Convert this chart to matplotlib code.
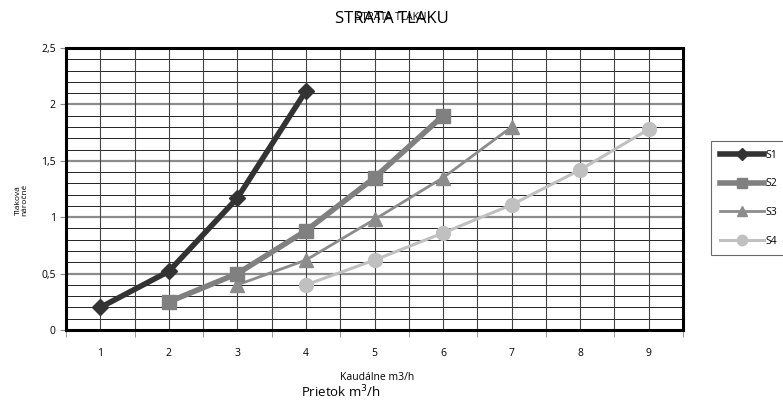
import numpy as np
import matplotlib.pyplot as plt
from matplotlib.ticker import FixedLocator

plt.rcParams['font.family'] = ['Open Sans', 'DejaVu Sans']

# data
s1_x = [1, 2, 3, 4]
s1_y = [0.20, 0.52, 1.17, 2.12]
s2_x = [2, 3, 4, 5, 6]
s2_y = [0.25, 0.50, 0.88, 1.35, 1.90]
s3_x = [3, 4, 5, 6, 7]
s3_y = [0.40, 0.62, 0.98, 1.35, 1.80]
s4_x = [4, 5, 6, 7, 8, 9]
s4_y = [0.40, 0.62, 0.86, 1.11, 1.42, 1.78]
x_ticks = [1, 2, 3, 4, 5, 6, 7, 8, 9]
y_ticks = [0, 0.5, 1, 1.5, 2, 2.5]
y_labels = ['0', '0,5', '1', '1,5', '2', '2,5']

fig = plt.figure(figsize=(7.83, 4.0), dpi=100)
ax = fig.add_axes([66/783, 70/400, 617/783, 282/400])

# grid: minor every 0.1 (dark thin), major every 0.5 (gray)
for v in np.arange(0.1, 2.5, 0.1):
    if abs(v * 2 - round(v * 2)) < 1e-6:
        ax.axhline(v, color='#8c8c8c', lw=1.6, zorder=1)
    else:
        ax.axhline(v, color='#222222', lw=0.7, zorder=1)
for v in np.arange(1.0, 9.6, 0.5):
    ax.axvline(v, color='#444444', lw=0.8, zorder=1)

ax.plot(s1_x, s1_y, color='#333333', lw=4, marker='D', ms=8, label='S1', zorder=5)
ax.plot(s2_x, s2_y, color='#808080', lw=4, marker='s', ms=10, label='S2', zorder=4)
ax.plot(s3_x, s3_y, color='#8c8c8c', lw=2, marker='^', ms=10, label='S3', zorder=3)
ax.plot(s4_x, s4_y, color='#c0c0c0', lw=2.2, marker='o', ms=10, label='S4', zorder=3)

ax.set_xlim(0.5, 9.5)
ax.set_ylim(0, 2.5)
ax.xaxis.set_major_locator(FixedLocator(x_ticks))
ax.xaxis.set_minor_locator(FixedLocator(np.arange(0.5, 9.6, 1.0)))
ax.tick_params(axis='x', which='major', length=0, pad=13, labelsize=7.5)
ax.tick_params(axis='x', which='minor', length=5, color='#888888')
ax.set_yticks(y_ticks)
ax.set_yticklabels(y_labels)
ax.tick_params(axis='y', length=4, labelsize=7.5, color='#888888')
for sp in ax.spines.values():
    sp.set_linewidth(2.2)
    sp.set_color('black')

fig.text(0.5, 0.952, 'STRATA TLAKU', ha='center', va='center', fontsize=12)
fig.text(0.5, 0.955, 'STRATA TLAKU', ha='center', va='center', fontsize=7.5)
fig.text(0.482, 0.057, 'Kaudálne m3/h', ha='center', va='center', fontsize=7.5)
fig.text(0.435, 0.02, 'Prietok m$^3$/h', ha='center', va='center', fontsize=9.5)
fig.text(0.028, 0.5, 'Tlaková\nnáročné', ha='center', va='center', rotation=90,
         fontsize=6, linespacing=0.9)

leg = fig.legend(loc='upper left', bbox_to_anchor=(706/783, 1 - 136/400),
                 frameon=True, fancybox=False, edgecolor='#444444',
                 fontsize=7.5, handlelength=4.3, labelspacing=1.7,
                 borderpad=0.8, handletextpad=0.1, markerscale=0.75)
leg.get_frame().set_linewidth(0.8)

fig.savefig('out.png', dpi=100)
